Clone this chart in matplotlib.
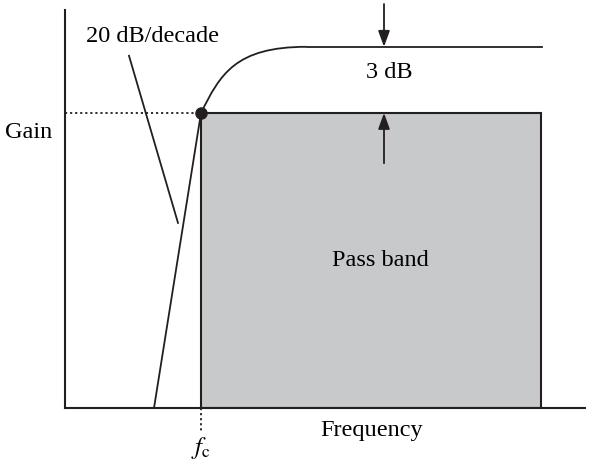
"""Low-pass style pass-band sketch: gain vs frequency with the 3 dB corner."""

import matplotlib
matplotlib.use("Agg")
import matplotlib.pyplot as plt
from matplotlib.patches import PathPatch
from matplotlib.path import Path as MplPath

matplotlib.rcParams.update({
    "font.family": ["Liberation Serif", "DejaVu Serif"],
    "mathtext.fontset": "stix",
    "font.size": 17.5,
})

INK = "#231f20"
BAND_FILL = "#c8c9cb"

# ---- data (arbitrary units) ----
fc = 2.72             # corner frequency
f_stop = 9.52         # right edge of the pass band
gain_fc = 5.93        # gain at the corner (-3 dB point)
gain_peak = 7.26      # flat gain level
f_flat = 4.83         # where the response reaches the flat level
f_end = 9.54          # end of the flat response line

# knee of the response as a cubic Bezier (start, two controls, end)
knee_f = [2.72, 3.10, 3.40, 4.83]
knee_g = [5.93, 6.70, 7.26, 7.26]

# 20 dB/decade asymptote
slope_f = [1.78, 2.72]
slope_g = [0.0, 5.93]

# leader line from the slope label
leader_f = [1.28, 2.26]
leader_g = [7.08, 3.72]

arrow_f = 6.38
arrow_top = 8.12
arrow_bottom = 4.92

fig = plt.figure(figsize=(5.95, 4.62), dpi=100)
ax = fig.add_axes([65 / 595, 54 / 462, 520 / 595, 398 / 462])
ax.set_xlim(0, 10.4)
ax.set_ylim(0, 8)
for side in ("top", "right"):
    ax.spines[side].set_visible(False)
for side in ("left", "bottom"):
    ax.spines[side].set_linewidth(1.5)
    ax.spines[side].set_color(INK)
ax.set_xticks([])
ax.set_yticks([])

# pass band
ax.bar(fc, gain_fc, width=f_stop - fc, align="edge",
       color=BAND_FILL, edgecolor=INK, linewidth=1.5, zorder=1)

# response: curved knee then flat line
knee = MplPath(list(zip(knee_f, knee_g)),
               [MplPath.MOVETO, MplPath.CURVE4, MplPath.CURVE4, MplPath.CURVE4])
ax.add_patch(PathPatch(knee, fc="none", ec=INK, lw=1.3, zorder=3))
ax.plot([f_flat, f_end], [gain_peak, gain_peak], color=INK, lw=1.3, zorder=3)

# asymptote and label leader
ax.plot(slope_f, slope_g, color=INK, lw=1.3, zorder=3)
ax.plot(leader_f, leader_g, color=INK, lw=1.3, zorder=3)

# dotted guides to the corner point
ax.plot([0, fc], [gain_fc, gain_fc], color=INK, lw=1.3, ls=(0, (1.2, 1.6)), zorder=2)
ax.plot([fc, fc], [0, -0.48], color=INK, lw=1.3, ls=(0, (1.2, 1.6)), clip_on=False)
ax.plot([fc], [gain_fc], "o", color=INK, ms=8, zorder=4)

# 3 dB arrows
arrow_kw = dict(arrowstyle="-|>,head_length=0.55,head_width=0.2", color=INK,
                lw=1.3, shrinkA=0, shrinkB=0)
ax.annotate("", xy=(arrow_f, gain_peak), xytext=(arrow_f, arrow_top),
            arrowprops=arrow_kw, annotation_clip=False)
ax.annotate("", xy=(arrow_f, gain_fc), xytext=(arrow_f, arrow_bottom),
            arrowprops=arrow_kw, annotation_clip=False)

# labels
ax.text(1.75, 7.46, "20 dB/decade", ha="center", va="center")
ax.text(6.49, 6.74, "3 dB", ha="center", va="center")
ax.text(6.3, 2.97, "Pass band", ha="center", va="center")
ax.text(-0.72, 5.53, "Gain", ha="center", va="center")
ax.text(6.14, -0.46, "Frequency", ha="center", va="center")
ax.text(2.72, -0.80, r"$f_{\mathrm{c}}$", ha="center", va="center", fontsize=18)

fig.savefig("out.png", dpi=100)
